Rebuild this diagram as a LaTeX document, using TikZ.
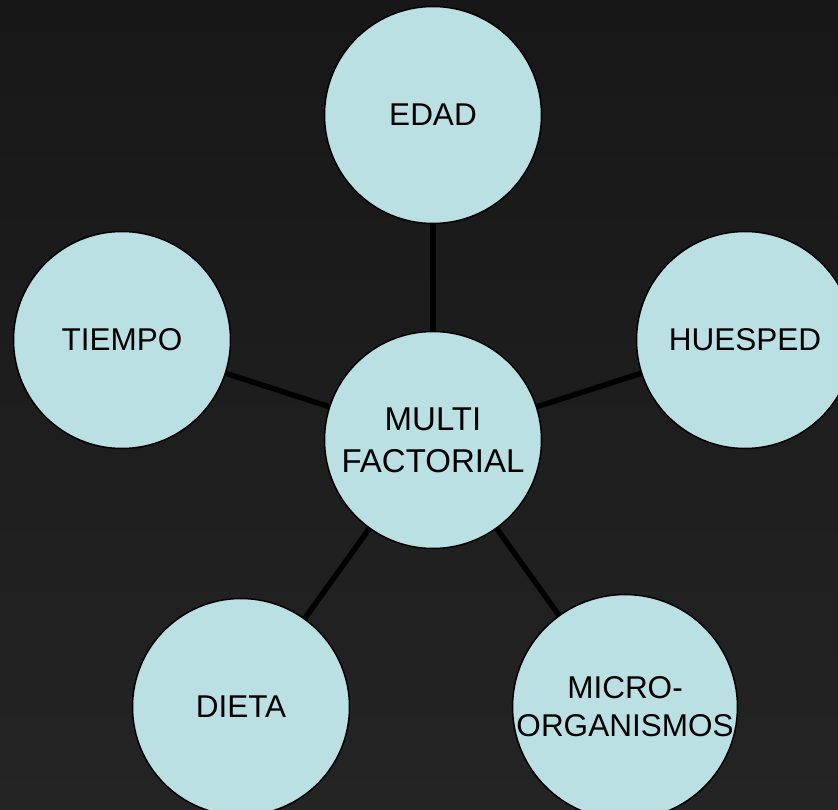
\documentclass[tikz,border=0pt]{standalone}
\usepackage{fontspec}
\setmainfont{Liberation Sans}
\definecolor{bgtop}{HTML}{171717}
\definecolor{bgbot}{HTML}{242424}
\definecolor{circfill}{HTML}{BBE0E3}
\tikzset{
  bubble/.style={circle, draw=black, line width=1.5pt, fill=circfill, minimum size=217pt, inner sep=0pt, align=center, font=\fontsize{31.5}{38}\selectfont, text=black},
  link/.style={draw=black, line width=5.5pt}
}
\begin{document}
\begin{tikzpicture}[x=1pt,y=-1pt]
\useasboundingbox (0,0) rectangle (838,810);
\clip (0,0) rectangle (838,810);
\shade[top color=bgtop, bottom color=bgbot] (0,0) rectangle (838,810);
\node[bubble, font=\fontsize{33}{42}\selectfont] (c) at (433,440) {MULTI\\FACTORIAL};
\node[bubble] (e) at (433,115) {EDAD};
\node[bubble] (h) at (745,340) {HUESPED};
\node[bubble] (t) at (122,340) {TIEMPO};
\node[bubble] (d) at (241,707) {DIETA};
\node[bubble] (m) at (625,707) {MICRO-\\ORGANISMOS};
\draw[link] (c) -- (e);
\draw[link] (c) -- (h);
\draw[link] (c) -- (t);
\draw[link] (c) -- (d);
\draw[link] (c) -- (m);
\end{tikzpicture}
\end{document}
